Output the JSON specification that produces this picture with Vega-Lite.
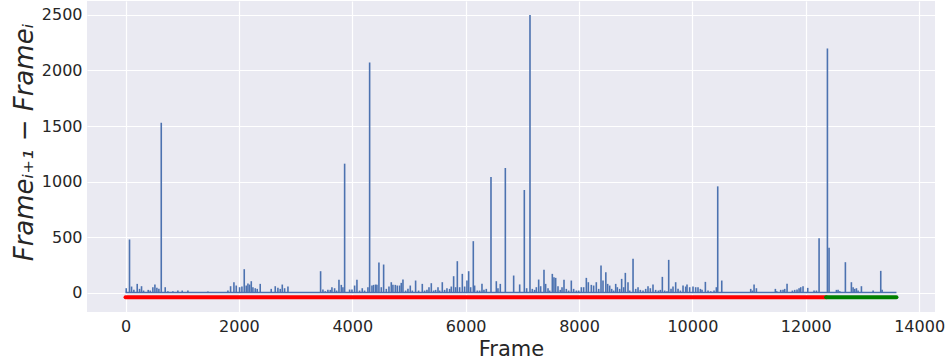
{
  "$schema": "https://vega.github.io/schema/vega-lite/v6.json",
  "width": 848,
  "height": 311,
  "autosize": "none",
  "padding": {"left": 87, "top": 1, "right": 11, "bottom": 51},
  "background": "white",
  "config": {
    "view": {"fill": "#EAEAF2", "stroke": null},
    "font": "DejaVu Sans",
    "axis": {
      "domain": false,
      "ticks": false,
      "grid": true,
      "gridColor": "#FFFFFF",
      "gridWidth": 1.2,
      "labelFont": "DejaVu Sans",
      "labelFontSize": 16,
      "labelColor": "#262626",
      "titleFont": "DejaVu Sans",
      "titleColor": "#262626",
      "titleFontWeight": "normal"
    }
  },
  "datasets": {
    "spikes": [
      {"f":12,"v":42},{"f":70,"v":480},{"f":106,"v":57},{"f":147,"v":27},{"f":206,"v":81},{"f":247,"v":36},{"f":282,"v":60},{"f":318,"v":21},{"f":400,"v":27},{"f":435,"v":21},{"f":482,"v":51},{"f":518,"v":75},{"f":553,"v":45},{"f":588,"v":36},{"f":630,"v":1530},{"f":700,"v":51},{"f":747,"v":15},{"f":835,"v":15},{"f":923,"v":21},{"f":1000,"v":21},{"f":1100,"v":21},{"f":1453,"v":12},{"f":1806,"v":21},{"f":1853,"v":60},{"f":1912,"v":96},{"f":1953,"v":66},
      {"f":2012,"v":51},{"f":2053,"v":57},{"f":2094,"v":213},{"f":2129,"v":66},{"f":2159,"v":84},{"f":2188,"v":75},{"f":2218,"v":105},{"f":2247,"v":51},{"f":2288,"v":42},{"f":2323,"v":36},{"f":2376,"v":81},{"f":2570,"v":36},{"f":2641,"v":60},{"f":2688,"v":45},{"f":2729,"v":36},{"f":2765,"v":75},{"f":2806,"v":42},{"f":2865,"v":57},{"f":3441,"v":195},{"f":3482,"v":30},{"f":3523,"v":15},{"f":3570,"v":27},{"f":3612,"v":27},{"f":3641,"v":51},{"f":3688,"v":42},{"f":3723,"v":21},{"f":3765,"v":117},{"f":3806,"v":72},{"f":3835,"v":51},{"f":3865,"v":1162},{"f":3953,"v":30},{"f":3994,"v":30},
      {"f":4041,"v":66},{"f":4082,"v":117},{"f":4129,"v":21},{"f":4176,"v":42},{"f":4217,"v":21},{"f":4276,"v":51},{"f":4306,"v":2072},{"f":4347,"v":66},{"f":4376,"v":72},{"f":4412,"v":75},{"f":4435,"v":72},{"f":4470,"v":273},{"f":4512,"v":51},{"f":4553,"v":255},{"f":4600,"v":36},{"f":4647,"v":57},{"f":4688,"v":96},{"f":4717,"v":72},{"f":4759,"v":72},{"f":4794,"v":66},{"f":4835,"v":66},{"f":4864,"v":90},{"f":4894,"v":120},{"f":4941,"v":21},{"f":4982,"v":36},{"f":5023,"v":66},{"f":5059,"v":21},{"f":5117,"v":111},{"f":5170,"v":21},{"f":5235,"v":81},{"f":5276,"v":21},{"f":5317,"v":27},{"f":5353,"v":51},{"f":5394,"v":87},{"f":5435,"v":21},{"f":5470,"v":27},{"f":5512,"v":51},{"f":5541,"v":21},{"f":5588,"v":96},{"f":5629,"v":27},{"f":5670,"v":42},{"f":5717,"v":36},{"f":5747,"v":57},{"f":5788,"v":150},{"f":5823,"v":51},{"f":5853,"v":285},{"f":5894,"v":51},{"f":5941,"v":171},{"f":5982,"v":57},
      {"f":6023,"v":111},{"f":6053,"v":195},{"f":6088,"v":51},{"f":6135,"v":465},{"f":6158,"v":66},{"f":6206,"v":21},{"f":6247,"v":21},{"f":6288,"v":81},{"f":6323,"v":27},{"f":6364,"v":36},{"f":6447,"v":1042},{"f":6541,"v":105},{"f":6570,"v":42},{"f":6611,"v":81},{"f":6700,"v":1123},{"f":6847,"v":156},{"f":6953,"v":76},{"f":7035,"v":925},{"f":7076,"v":42},{"f":7135,"v":2498},{"f":7176,"v":36},{"f":7217,"v":27},{"f":7247,"v":51},{"f":7288,"v":120},{"f":7323,"v":60},{"f":7382,"v":207},{"f":7411,"v":81},{"f":7453,"v":42},{"f":7482,"v":21},{"f":7529,"v":171},{"f":7558,"v":141},{"f":7588,"v":135},{"f":7629,"v":60},{"f":7670,"v":27},{"f":7700,"v":51},{"f":7735,"v":117},{"f":7776,"v":36},{"f":7817,"v":21},{"f":7864,"v":111},{"f":7905,"v":36},{"f":7953,"v":21},{"f":7994,"v":21},
      {"f":8041,"v":51},{"f":8082,"v":51},{"f":8129,"v":135},{"f":8164,"v":96},{"f":8217,"v":72},{"f":8258,"v":66},{"f":8305,"v":96},{"f":8347,"v":36},{"f":8388,"v":246},{"f":8423,"v":111},{"f":8473,"v":186},{"f":8505,"v":81},{"f":8541,"v":66},{"f":8576,"v":36},{"f":8611,"v":21},{"f":8647,"v":81},{"f":8676,"v":51},{"f":8717,"v":36},{"f":8752,"v":126},{"f":8788,"v":51},{"f":8817,"v":180},{"f":8864,"v":96},{"f":8894,"v":21},{"f":8953,"v":306},{"f":9000,"v":36},{"f":9041,"v":51},{"f":9082,"v":27},{"f":9129,"v":21},{"f":9176,"v":36},{"f":9217,"v":60},{"f":9258,"v":42},{"f":9305,"v":75},{"f":9352,"v":27},{"f":9400,"v":21},{"f":9435,"v":27},{"f":9470,"v":144},{"f":9511,"v":21},{"f":9552,"v":15},{"f":9582,"v":297},{"f":9623,"v":36},{"f":9658,"v":57},{"f":9705,"v":96},{"f":9747,"v":36},{"f":9788,"v":21},{"f":9835,"v":66},{"f":9882,"v":57},{"f":9905,"v":75},{"f":9952,"v":51},
      {"f":10011,"v":57},{"f":10058,"v":51},{"f":10099,"v":51},{"f":10141,"v":36},{"f":10170,"v":27},{"f":10229,"v":99},{"f":10276,"v":21},{"f":10323,"v":15},{"f":10382,"v":21},{"f":10423,"v":51},{"f":10447,"v":958},{"f":10518,"v":111},{"f":11029,"v":36},{"f":11058,"v":21},{"f":11088,"v":75},{"f":11129,"v":42},{"f":11464,"v":36},{"f":11488,"v":15},{"f":11558,"v":27},{"f":11599,"v":27},{"f":11629,"v":36},{"f":11670,"v":81},{"f":11764,"v":21},{"f":11805,"v":27},{"f":11846,"v":30},{"f":11882,"v":42},{"f":11911,"v":51},{"f":11952,"v":60},
      {"f":12035,"v":45},{"f":12146,"v":21},{"f":12188,"v":21},{"f":12235,"v":492},{"f":12382,"v":2198},{"f":12411,"v":405},{"f":12541,"v":27},{"f":12570,"v":27},{"f":12600,"v":15},{"f":12699,"v":276},{"f":12805,"v":96},{"f":12835,"v":51},{"f":12864,"v":36},{"f":12894,"v":42},{"f":12923,"v":21},{"f":12982,"v":60},{"f":13188,"v":21},{"f":13323,"v":198},{"f":13347,"v":27}
    ],
    "baseline": [
      {"f":0,"v":3},{"f":13600,"v":3}
    ],
    "split": [
      {"f":0,"v":-40,"part":"train"},{"f":12360,"v":-40,"part":"train"},
      {"f":12360,"v":-40,"part":"test"},{"f":13600,"v":-40,"part":"test"}
    ]
  },
  "encoding": {
    "x": {
      "field": "f", "type": "quantitative",
      "scale": {"domain": [-680, 14280], "nice": false, "zero": false},
      "axis": {"values": [0,2000,4000,6000,8000,10000,12000,14000], "labelPadding": 6, "title": "Frame", "titleFontSize": 21, "titlePadding": 4, "format": "d"}
    },
    "y": {
      "field": "v", "type": "quantitative",
      "scale": {"domain": [-172, 2625], "nice": false, "zero": false},
      "axis": {"values": [0,500,1000,1500,2000,2500], "labelPadding": 5, "title": "Frameᵢ₊₁ − Frameᵢ", "titleFontSize": 26, "titleFontStyle": "italic", "titlePadding": 4, "titleY": 141, "format": "d"}
    }
  },
  "layer": [
    {
      "data": {"name": "baseline"},
      "mark": {"type": "line", "color": "#4C72B0", "strokeWidth": 1.5},
      "encoding": {}
    },
    {
      "data": {"name": "spikes"},
      "mark": {"type": "rule", "color": "#4C72B0", "strokeWidth": 1.6},
      "encoding": {"y2": {"datum": 3}}
    },
    {
      "data": {"name": "split"},
      "mark": {"type": "line", "strokeWidth": 4, "strokeCap": "round"},
      "encoding": {
        "color": {"field": "part", "type": "nominal", "scale": {"domain": ["train","test"], "range": ["#FF0000","#008000"]}, "legend": null}
      }
    }
  ]
}
